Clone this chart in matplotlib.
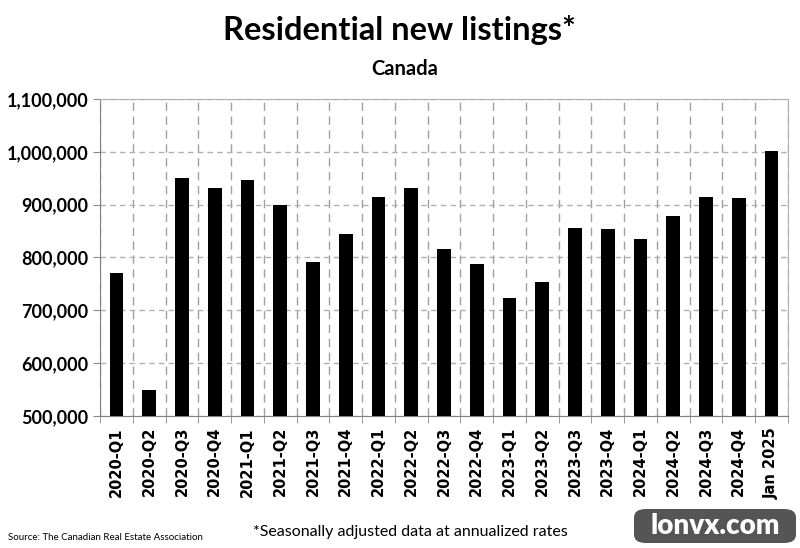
import matplotlib
matplotlib.use("Agg")
import matplotlib.pyplot as plt
from matplotlib.patches import FancyBboxPatch
from matplotlib.ticker import FuncFormatter, FixedLocator

categories = ["2020-Q1", "2020-Q2", "2020-Q3", "2020-Q4",
              "2021-Q1", "2021-Q2", "2021-Q3", "2021-Q4",
              "2022-Q1", "2022-Q2", "2022-Q3", "2022-Q4",
              "2023-Q1", "2023-Q2", "2023-Q3", "2023-Q4",
              "2024-Q1", "2024-Q2", "2024-Q3", "2024-Q4", "Jan 2025"]
values = [770000, 549000, 950000, 932000,
          947000, 900000, 792000, 845000,
          914000, 932000, 816000, 787000,
          724000, 753000, 856000, 853000,
          835000, 878000, 914000, 912000, 1002000]
y_ticks = [500000, 600000, 700000, 800000, 900000, 1000000, 1100000]

fig = plt.figure(figsize=(8.0, 5.48), dpi=100)
ax = fig.add_axes([100/800, 1-416/548, 688/800, 317/548])

n = len(categories)
x = list(range(n))
ax.bar(x, values, width=0.42, color="black", zorder=3)
ax.set_xlim(-0.5, n - 0.5)
ax.set_ylim(y_ticks[0], y_ticks[-1])

ax.yaxis.set_major_locator(FixedLocator(y_ticks))
ax.yaxis.set_major_formatter(FuncFormatter(lambda v, p: f"{int(v):,}"))
ax.set_xticks(x)
ax.set_xticklabels(categories, rotation=90, fontfamily="DejaVu Sans",
                   fontweight="bold", fontsize=10.5)
ax.tick_params(axis="x", length=0, pad=8)
ax.set_xticks([i - 0.5 for i in range(n + 1)], minor=True)
ax.tick_params(axis="x", which="minor", length=5, color="#888888", direction="out")
ax.tick_params(axis="y", length=5, color="#888888", labelsize=13)
for lab in ax.get_yticklabels():
    lab.set_fontfamily("Lato")
    lab.set_fontweight("bold")

ax.grid(axis="y", which="major", linestyle=(0, (4, 3)), color="#b0b0b0", linewidth=1, zorder=0)
ax.grid(axis="x", which="minor", linestyle=(0, (6, 4)), color="#a0a0a0", linewidth=1, zorder=0)
ax.grid(axis="x", which="major", visible=False)

for s in ["left", "bottom"]:
    ax.spines[s].set_color("#808080")
for s in ["top", "right"]:
    ax.spines[s].set_color("#b0b0b0")

fig.text(399/800, 1-30/548, "Residential new listings*", ha="center", va="center",
         fontsize=23.5, fontweight="bold", fontfamily="Lato")
fig.text(405/800, 1-69/548, "Canada", ha="center", va="center",
         fontsize=14.5, fontweight="bold", fontfamily="Lato")
fig.text(8/800, 1-537/548, "Source: The Canadian Real Estate Association", ha="left",
         va="center", fontsize=7, fontfamily="Lato")
fig.text(410/800, 1-532/548, "*Seasonally adjusted data at annualized rates", ha="center",
         va="center", fontsize=11.5, fontfamily="Lato")

box = FancyBboxPatch((634/800, 1-543/548), 162/800, 34/548,
                     boxstyle="round,pad=0,rounding_size=0.015",
                     transform=fig.transFigure, facecolor="#555555", edgecolor="none")
fig.patches.append(box)
fig.text(715/800, 1-526/548, "lonvx.com", ha="center", va="center", color="white",
         fontsize=20, fontweight="heavy", fontfamily="Lato")

fig.savefig("out.png", dpi=100)
